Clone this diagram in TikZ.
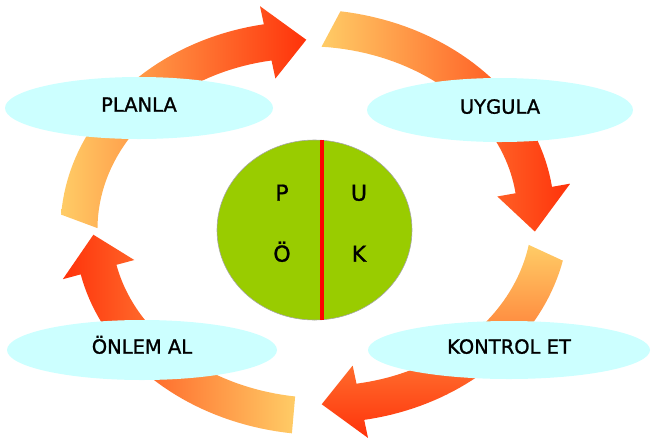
\documentclass[tikz,border=0pt]{standalone}
\usepackage{fontspec}
\setmainfont{DejaVu Sans}
\newfontfamily\labelfont{DejaVu Sans}[FakeBold=1.1]
\usetikzlibrary{shapes.geometric}
\definecolor{labelcyan}{RGB}{204, 255, 255}
\definecolor{pukgreen}{RGB}{153, 204, 0}
\definecolor{arrowtail}{RGB}{255, 204, 102}
\definecolor{arrowmid}{RGB}{255, 125, 55}
\definecolor{arrowhead}{RGB}{255, 50, 10}
\definecolor{splitred}{RGB}{255, 0, 0}

% one curved arrow of the cycle: start angle, tail skew, head base, tip, shading
\newcommand{\cyclearrow}[5]{%
  \def\arrs{#1}\def\arre{#4}%
  \shade[#5]
    plot[domain=#1+#2:#3, samples=40] ({ax(\x,18.5)}, {ay(\x,18.5)})
    -- ({ax(#3,37)}, {ay(#3,37)})
    -- ({ax(#4,0)}, {ay(#4,0)})
    -- ({ax(#3,-37)}, {ay(#3,-37)})
    -- plot[domain=#3:#1-#2, samples=40] ({ax(\x,-18.5)}, {ay(\x,-18.5)})
    -- cycle;
}

\begin{document}
\begin{tikzpicture}[x=1pt, y=-1pt,
    declare function={
      rfac(\ang)=1.03-0.06*(\ang-\arrs)/(\arre-\arrs);
      ax(\ang,\off)=314+(228*rfac(\ang)+\off)*cos(\ang);
      ay(\ang,\off)=222+(188*rfac(\ang)+\off)*sin(\ang);
    },
    label/.style={ellipse, fill=labelcyan, inner sep=0pt,
      font=\labelfont\fontsize{19.5}{20}\selectfont, text height=0.73em, text depth=0pt},
    letter/.style={font=\labelfont\fontsize{22}{22}\selectfont, inner sep=0pt,
      text height=0.73em, text depth=0pt}]

  \useasboundingbox (0, 0) rectangle (651, 440);

  % ── Cycle arrows ──────────────────────────────────────────────────────────
  \cyclearrow{180}{2}{258}{268}{left color=arrowtail, middle color=arrowmid, right color=arrowhead}
  \cyclearrow{274}{2}{350}{363}{left color=arrowtail, middle color=arrowmid, right color=arrowhead}
  \cyclearrow{369}{1.5}{438}{448}{top color=arrowtail, middle color=arrowmid, bottom color=arrowhead}
  \cyclearrow{455}{0}{525}{536}{left color=arrowhead, middle color=arrowmid, right color=arrowtail}

  % ── Step labels ───────────────────────────────────────────────────────────
  \node[label, minimum width=268pt, minimum height=62pt] (planla) at (139, 108) {PLANLA};
  \node[label, minimum width=266pt, minimum height=64pt] (uygula) at (500, 110) {UYGULA};
  \node[label, minimum width=282pt, minimum height=58pt] (kontrol) at (509, 350) {KONTROL ET};
  \node[label, minimum width=270pt, minimum height=60pt] (onlem) at (142, 350) {ÖNLEM AL};

  % ── Centre disc ───────────────────────────────────────────────────────────
  \node[ellipse, fill=pukgreen, draw=gray!70, line width=0.6pt,
        minimum width=195pt, minimum height=180pt, inner sep=0pt] (puk) at (314.5, 230) {};
  \draw[splitred, line width=3.4pt] ([xshift=7.5pt]puk.north) -- ([xshift=7.5pt]puk.south);

  \node[letter] (lp) at (282, 197) {P};
  \node[letter] (lu) at (359, 197) {U};
  \node[letter] (lo) at (282, 258) {Ö};
  \node[letter] (lk) at (359, 258) {K};

\end{tikzpicture}
\end{document}
